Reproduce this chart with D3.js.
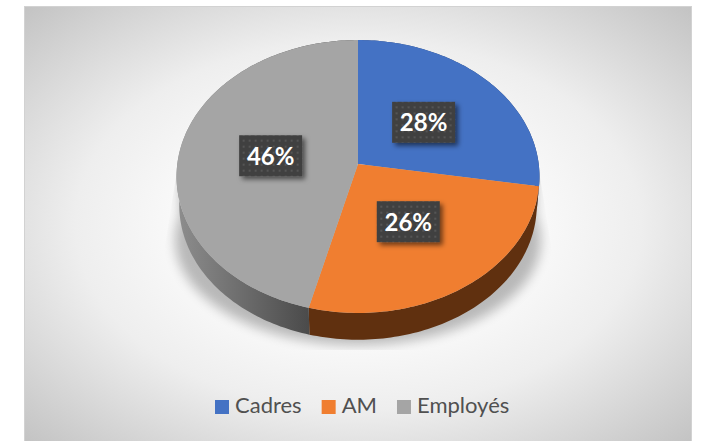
<!DOCTYPE html>
<html>
<head>
<meta charset="utf-8">
<script src="https://cdn.jsdelivr.net/npm/d3@7"></script>
<style>
  html, body { margin: 0; padding: 0; background: #fff; }
  svg { display: block; }
  text { font-family: Lato, "Open Sans", sans-serif; }
</style>
</head>
<body>
<div id="chart"></div>
<script>
const categories = ["Cadres", "AM", "Employés"]
const shares = [27.6, 26.4, 46]
const colors = ["#4472c4", "#f07e30", "#a5a5a5"]
const wallColors = ["#2a4476", "#60300f", "url(#wallGrey)"]

const width = 702
const height = 441

// pie is a tilted disc: k is the perspective strength, so the near edge looks bigger
const cx = 358, cy = 164
const radiusX = 180.7, radiusY = 135.3, k = 0.0916
const depth = 29, bottomScale = 0.985

function project(angle, r, scale, shift) {
  const u = r * Math.sin(angle)
  const v = -r * Math.cos(angle)
  const w = 1 - k * v
  return [cx + scale * radiusX * u / w, cy + shift + scale * radiusY * v / w]
}

function arcPoints(a0, a1, scale, shift) {
  const n = Math.max(2, Math.ceil((a1 - a0) / 0.02))
  return d3.range(n + 1).map(i => project(a0 + (a1 - a0) * i / n, 1, scale, shift))
}

const line = d3.line()

const svg = d3.select("#chart").append("svg")
  .attr("width", width)
  .attr("height", height)

const defs = svg.append("defs")

const bg = defs.append("radialGradient").attr("id", "bg")
  .attr("cx", "50%").attr("cy", "50%").attr("r", "70.7%")
bg.append("stop").attr("offset", "0%").attr("stop-color", "#ffffff")
bg.append("stop").attr("offset", "30%").attr("stop-color", "#fdfdfd")
bg.append("stop").attr("offset", "60%").attr("stop-color", "#eeeeee")
bg.append("stop").attr("offset", "100%").attr("stop-color", "#c3c3c3")

const wallGrey = defs.append("linearGradient").attr("id", "wallGrey")
  .attr("gradientUnits", "userSpaceOnUse")
  .attr("x1", 180).attr("x2", 308).attr("y1", 0).attr("y2", 0)
wallGrey.append("stop").attr("offset", "0%").attr("stop-color", "#8c8c8c")
wallGrey.append("stop").attr("offset", "100%").attr("stop-color", "#4b4b4b")

const dots = defs.append("pattern").attr("id", "dots")
  .attr("width", 6).attr("height", 6)
  .attr("patternUnits", "userSpaceOnUse")
dots.append("rect").attr("width", 6).attr("height", 6).attr("fill", "#404040")
dots.append("rect").attr("x", 2).attr("y", 2).attr("width", 2).attr("height", 2).attr("fill", "#555555")

defs.append("filter").attr("id", "blur")
  .attr("x", "-20%").attr("y", "-20%").attr("width", "140%").attr("height", "140%")
  .append("feGaussianBlur").attr("stdDeviation", 6)

const labelShadow = defs.append("filter").attr("id", "labelShadow")
  .attr("x", "-30%").attr("y", "-30%").attr("width", "170%").attr("height", "170%")
labelShadow.append("feDropShadow")
  .attr("dx", 3).attr("dy", 3).attr("stdDeviation", 2.5)
  .attr("flood-color", "#000").attr("flood-opacity", 0.55)

// the shadow in the original is cut off as a wedge at the sides and flat at the bottom
defs.append("clipPath").attr("id", "shadowClip")
  .append("path")
  .attr("d", line([[178, 165], [538, 165], [552, 250], [552, 350], [164, 350], [164, 250]]) + "Z")

// background panel
svg.append("rect")
  .attr("x", 24.5).attr("y", 6.5)
  .attr("width", 667).attr("height", 436)
  .attr("fill", "url(#bg)")
  .attr("stroke", "#d2d2d2")

// soft shadow under the disc
const shadow = svg.append("g").attr("clip-path", "url(#shadowClip)")
  .append("g").attr("filter", "url(#blur)").attr("opacity", 0.26)
shadow.append("ellipse")
  .attr("cx", cx).attr("cy", 240)
  .attr("rx", 183).attr("ry", 105)
  .attr("fill", "#000")
shadow.append("rect")
  .attr("x", 180).attr("y", 150)
  .attr("width", 356).attr("height", 90)
  .attr("fill", "#000")

const pie = d3.pie().sort(null).value(d => d)
const slices = pie(shares)

// side walls first, top faces go over them
svg.append("g").selectAll("path")
  .data(slices)
  .join("path")
  .attr("d", d => {
    const top = arcPoints(d.startAngle, d.endAngle, 1, 0)
    const bottom = arcPoints(d.startAngle, d.endAngle, bottomScale, depth).reverse()
    return line(top.concat(bottom)) + "Z"
  })
  .attr("fill", (d, i) => wallColors[i])

svg.append("g").selectAll("path")
  .data(slices)
  .join("path")
  .attr("d", d => line([project(0, 0, 1, 0)].concat(arcPoints(d.startAngle, d.endAngle, 1, 0))) + "Z")
  .attr("fill", (d, i) => colors[i])

// percent labels
const labels = svg.append("g").selectAll("g")
  .data(slices)
  .join("g")
  .attr("transform", d => {
    const p = project((d.startAngle + d.endAngle) / 2, 0.49, 1, 0)
    return "translate(" + p[0] + "," + p[1] + ")"
  })

labels.append("rect")
  .attr("x", -31.5).attr("y", -20.5)
  .attr("width", 63).attr("height", 41)
  .attr("fill", "url(#dots)")
  .attr("filter", "url(#labelShadow)")

labels.append("text")
  .attr("text-anchor", "middle")
  .attr("y", 9)
  .attr("font-size", 24)
  .attr("font-weight", 700)
  .attr("fill", "#fff")
  .text(d => Math.round(d.data) + "%")

// legend
const legend = svg.append("g")
let legendX = 215
categories.forEach((name, i) => {
  legend.append("rect")
    .attr("x", legendX).attr("y", 400)
    .attr("width", 14).attr("height", 14)
    .attr("fill", colors[i])
  const t = legend.append("text")
    .attr("x", legendX + 20).attr("y", 413)
    .attr("font-size", 22)
    .attr("fill", "#505050")
    .text(name)
  legendX += 20 + t.node().getComputedTextLength() + 20
})
</script>
</body>
</html>
